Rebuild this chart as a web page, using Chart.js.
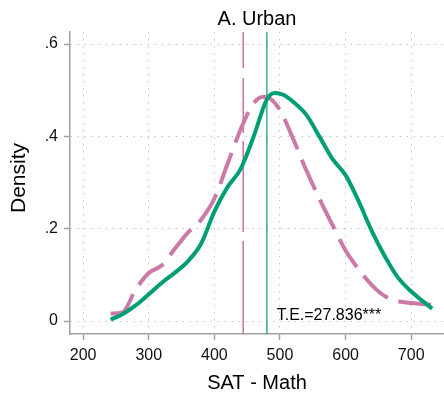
<!DOCTYPE html>
<html><head><meta charset="utf-8">
<script src="https://cdn.jsdelivr.net/npm/chart.js@4.4.0/dist/chart.umd.min.js"></script>
<style>html,body{margin:0;padding:0;background:#fff;}#wrap{width:444px;height:396px;}</style>
</head><body><div id="wrap"><canvas id="c" width="444" height="396"></canvas></div>
<script>
// ---- data ----
const chartTitle = 'A. Urban';
const xTitle = 'SAT - Math';
const yTitle = 'Density';
const annotationText = 'T.E.=27.836***';
const xTickValues = [200, 300, 400, 500, 600, 700];
const yTickValues = [0, 0.2, 0.4, 0.6];
const yTickLabels = ['0', '.2', '.4', '.6'];
const treatmentX = [242,260,280,300,320,340,360,380,400,420,440,460,480,492,505,520,540,560,580,600,620,640,660,680,700,732];
const treatmentY = [0.003,0.015,0.034,0.058,0.083,0.105,0.13,0.168,0.237,0.29,0.329,0.40,0.48,0.494,0.49,0.475,0.447,0.40,0.351,0.316,0.259,0.195,0.14,0.094,0.064,0.027];
const comparisonX = [242,260,280,300,320,340,360,380,400,420,440,460,475,485,500,520,540,560,580,600,620,640,660,680,700,732];
const comparisonY = [0.016,0.019,0.068,0.104,0.121,0.157,0.192,0.22,0.265,0.34,0.415,0.472,0.486,0.482,0.457,0.395,0.327,0.265,0.208,0.153,0.112,0.078,0.054,0.043,0.039,0.035];
const treatmentMean = 480;
const comparisonMean = 444;

// ---- layout / style ----
const X_MIN = 180, X_MAX = 750, Y_MIN = -0.028, Y_MAX = 0.626;
const FONT = '"Liberation Sans", Arial, Helvetica, sans-serif';
const GREEN = '#009E73', PINK = '#CC79A7', AXIS = '#a0a0a0', GRID = '#c4c4c4';
const annotAt = {x: 495, y: 0.002};

const pts = (xs, ys) => xs.map((x, i) => ({x, y: ys[i]}));

const textPlugin = {
  id: 'texts',
  afterDraw(chart) {
    const {ctx, chartArea, scales} = chart;
    const cx = (chartArea.left + chartArea.right) / 2;
    ctx.save();
    ctx.fillStyle = '#000';
    ctx.textAlign = 'center';
    ctx.textBaseline = 'alphabetic';
    ctx.font = '20px ' + FONT;
    ctx.fillText(chartTitle, cx, 25);
    ctx.fillText(xTitle, cx, 389);
    ctx.save();
    ctx.font = '21px ' + FONT;
    ctx.translate(25, 178);
    ctx.rotate(-Math.PI / 2);
    ctx.fillText(yTitle, 0, 0);
    ctx.restore();
    ctx.font = '16px ' + FONT;
    ctx.textAlign = 'left';
    ctx.fillText(annotationText, scales.x.getPixelForValue(annotAt.x), scales.y.getPixelForValue(annotAt.y));
    ctx.restore();
  }
};

new Chart(document.getElementById('c'), {
  type: 'line',
  data: {
    datasets: [
      {data: pts(treatmentX, treatmentY), borderColor: GREEN, borderWidth: 4, pointRadius: 0,
       cubicInterpolationMode: 'monotone', fill: false, order: 1},
      {data: pts(comparisonX, comparisonY), borderColor: PINK, borderWidth: 4, borderDash: [33, 11],
       pointRadius: 0, cubicInterpolationMode: 'monotone', fill: false, order: 2},
      {data: [{x: treatmentMean, y: Y_MAX}, {x: treatmentMean, y: Y_MIN}], borderColor: 'rgba(0,158,115,0.75)',
       borderWidth: 1.6, pointRadius: 0, tension: 0, order: 3},
      {data: [{x: comparisonMean, y: Y_MAX}, {x: comparisonMean, y: Y_MIN}], borderColor: PINK,
       borderWidth: 1.6, borderDash: [36, 10, 55, 8, 91, 9, 100, 0], pointRadius: 0, tension: 0, order: 4}
    ]
  },
  options: {
    responsive: false,
    devicePixelRatio: 1,
    animation: false,
    layout: {padding: {top: 32, left: 0, right: 0, bottom: 0}},
    plugins: {legend: {display: false}, tooltip: {enabled: false}, title: {display: false}},
    scales: {
      x: {
        type: 'linear', min: X_MIN, max: X_MAX,
        afterBuildTicks: s => { s.ticks = xTickValues.map(v => ({value: v})); },
        afterFit: s => { s.height = 62; },
        grid: {color: GRID, lineWidth: 1, tickLength: 6, tickColor: AXIS, tickWidth: 1.5},
        border: {display: true, color: AXIS, width: 1.5, dash: [1.5, 5.5]},
        ticks: {font: {family: FONT, size: 16}, color: '#111', padding: 6, maxRotation: 0, autoSkip: false,
                callback: v => String(v)}
      },
      y: {
        type: 'linear', min: Y_MIN, max: Y_MAX,
        afterBuildTicks: s => { s.ticks = yTickValues.map(v => ({value: v})); },
        afterFit: s => { s.width = 70; },
        grid: {color: GRID, lineWidth: 1, tickLength: 6, tickColor: AXIS, tickWidth: 1.5},
        border: {display: true, color: AXIS, width: 1.5, dash: [1.5, 5.5]},
        ticks: {font: {family: FONT, size: 16}, color: '#111', padding: 6,
                callback: v => yTickLabels[yTickValues.indexOf(v)]}
      }
    }
  },
  plugins: [textPlugin]
});
</script></body></html>
